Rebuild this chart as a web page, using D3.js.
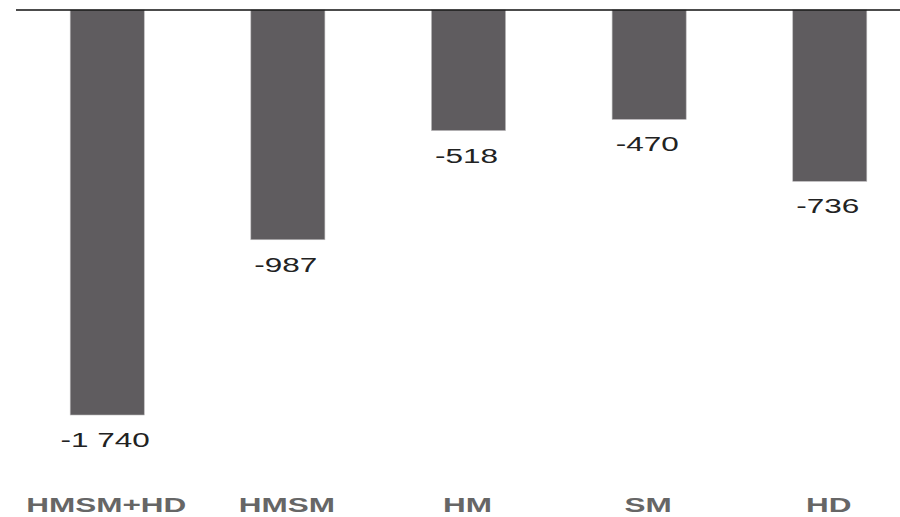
<!DOCTYPE html>
<html>
<head>
<meta charset="utf-8">
<script src="https://cdn.jsdelivr.net/npm/d3@7"></script>
<style>
  html, body { margin: 0; padding: 0; background: #fff; }
  svg { display: block; }
</style>
</head>
<body>
<div id="chart"></div>
<script>
var categories = ['HMSM+HD', 'HMSM', 'HM', 'SM', 'HD'],
  values = [-1740, -987, -518, -470, -736];

var width = 900,
  height = 517,
  zeroY = 10,
  minY = 415,
  barColor = '#5f5c5f';

var svg = d3.select('#chart')
  .append('svg')
  .attr('width', width)
  .attr('height', height);

var x = d3.scaleBand()
  .domain(categories)
  .range([16, 921])
  .paddingInner(0.59)
  .paddingOuter(0.3);

var y = d3.scaleLinear()
  .domain([0, -1740])
  .range([zeroY, minY]);

var fmt = d3.formatLocale({decimal: ',', thousands: '\u00a0', grouping: [3], currency: ['', '']}).format(',d');

// bars
svg.append('g')
  .selectAll('rect')
  .data(values)
  .enter()
  .append('rect')
  .attr('x', function (d, i) { return x(categories[i]); })
  .attr('y', y(0))
  .attr('width', x.bandwidth())
  .attr('height', function (d) { return y(d) - y(0); })
  .style('fill', barColor)
  .style('stroke', '#b9b7b9')
  .style('stroke-width', 0.6);

// baseline
svg.append('line')
  .attr('x1', 16)
  .attr('x2', width)
  .attr('y1', y(0))
  .attr('y2', y(0))
  .style('stroke', '#111')
  .style('stroke-width', 1.6);

// value labels
svg.append('g')
  .selectAll('text')
  .data(values)
  .enter()
  .append('text')
  .attr('transform', function (d, i) {
    return 'translate(' + (x(categories[i]) + x.bandwidth() / 2 - 2) + ',' + (y(d) + 32) + ') scale(1.5,1)';
  })
  .attr('text-anchor', 'middle')
  .style('font-family', '"Liberation Sans", Arial, sans-serif')
  .style('font-size', '21px')
  .style('fill', '#222')
  .text(function (d) { return fmt(d).replace('\u2212', '-'); });

// category labels
svg.append('g')
  .selectAll('text')
  .data(categories)
  .enter()
  .append('text')
  .attr('transform', function (d) {
    return 'translate(' + (x(d) + x.bandwidth() / 2 - 1) + ',512) scale(1.5,1)';
  })
  .attr('text-anchor', 'middle')
  .style('font-family', '"Liberation Sans", Arial, sans-serif')
  .style('font-weight', 'bold')
  .style('font-size', '21px')
  .style('fill', '#666')
  .text(function (d) { return d; });
</script>
</body>
</html>
